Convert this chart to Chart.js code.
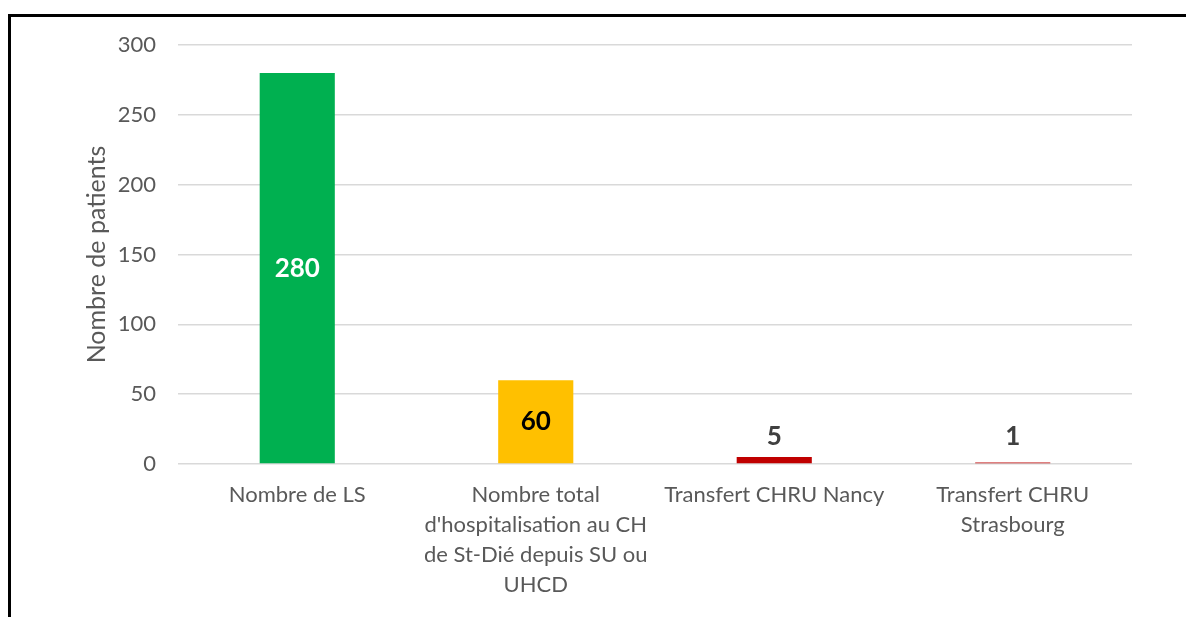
<!DOCTYPE html>
<html>
<head>
<meta charset="utf-8">
<script src="https://cdn.jsdelivr.net/npm/chart.js@4/dist/chart.umd.min.js"></script>
<style>
  html, body { margin: 0; padding: 0; background: #fff; }
  #wrap { position: relative; width: 1186px; height: 617px; }
  #frame { position: absolute; left: 8px; top: 14px; right: 0; bottom: 0;
           border-top: 3px solid #000; border-left: 3px solid #000; pointer-events: none; }
</style>
</head>
<body>
<div id="wrap">
  <canvas id="c" width="1186" height="617"></canvas>
  <div id="frame"></div>
</div>
<script>
const categories = [
  ["Nombre de LS"],
  ["Nombre total", "d'hospitalisation au CH", "de St-Dié depuis SU ou", "UHCD"],
  ["Transfert CHRU Nancy"],
  ["Transfert CHRU", "Strasbourg"]
];
const values = [280, 60, 5, 1];
const barColors = ["#00B050", "#FFC000", "#C00000", "#C00000"];
const labelColors = ["#FFFFFF", "#000000", "#404040", "#404040"];
const yTicks = { min: 0, max: 300, step: 50 };
const yTitle = "Nombre de patients";

const FONT = "Lato, 'Liberation Sans', sans-serif";

const valueLabels = {
  id: 'valueLabels',
  afterDatasetsDraw(chart) {
    const ctx = chart.ctx;
    const meta = chart.getDatasetMeta(0);
    const base = chart.scales.y.getPixelForValue(0);
    ctx.save();
    ctx.font = "bold 26px " + FONT;
    ctx.textAlign = 'center';
    ctx.textBaseline = 'middle';
    meta.data.forEach((bar, i) => {
      const h = base - bar.y;
      let y;
      if (h > 45) y = (bar.y + base) / 2;
      else y = base - 27;
      ctx.fillStyle = labelColors[i];
      ctx.fillText(String(values[i]), bar.x, y);
    });
    ctx.restore();
  }
};

new Chart(document.getElementById('c'), {
  type: 'bar',
  data: {
    labels: categories,
    datasets: [{
      data: values,
      backgroundColor: barColors,
      borderWidth: 0,
      categoryPercentage: 1,
      barPercentage: 0.315
    }]
  },
  options: {
    responsive: false,
    animation: false,
    layout: { padding: { top: 45, right: 54, bottom: 0, left: 0 } },
    plugins: { legend: { display: false }, tooltip: { enabled: false } },
    scales: {
      x: {
        grid: { display: false, drawTicks: false },
        border: { display: false },
        ticks: {
          color: '#595959',
          font: { family: FONT, size: 22, lineHeight: 30 / 22 },
          padding: 16,
          maxRotation: 0,
          autoSkip: false
        },
        afterFit(scale) { scale.height = 153; }
      },
      y: {
        min: yTicks.min, max: yTicks.max,
        grid: { color: '#D9D9D9', lineWidth: 1.5, drawTicks: false },
        border: { display: false },
        ticks: {
          stepSize: yTicks.step,
          color: '#595959',
          font: { family: FONT, size: 22 },
          padding: 22
        },
        title: {
          display: true,
          text: yTitle,
          color: '#595959',
          font: { family: FONT, size: 25, lineHeight: 1.2 },
          padding: { top: 82, bottom: 0 }
        },
        afterFit(scale) { scale.width = 178; }
      }
    }
  },
  plugins: [valueLabels]
});
</script>
</body>
</html>
